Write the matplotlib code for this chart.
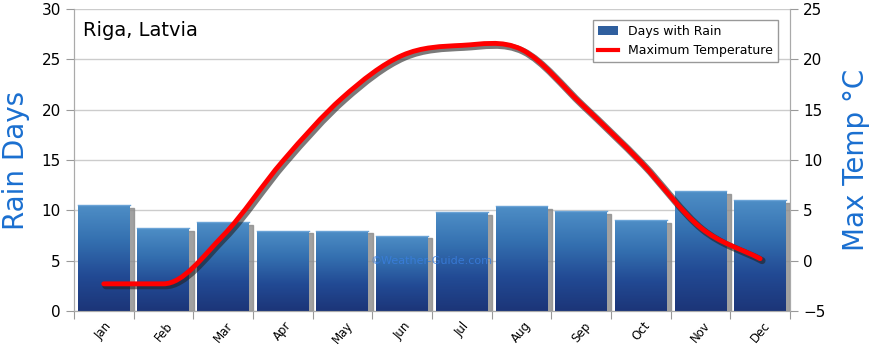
import numpy as np
import matplotlib.pyplot as plt
import matplotlib.transforms as mtransforms
from matplotlib.path import Path
from matplotlib.patches import PathPatch, Rectangle
from matplotlib.lines import Line2D
from matplotlib.colors import LinearSegmentedColormap

months = ["Jan", "Feb", "Mar", "Apr", "May", "Jun", "Jul", "Aug", "Sep", "Oct", "Nov", "Dec"]
rain_days = [10.5, 8.2, 8.8, 8.0, 8.0, 7.5, 9.8, 10.4, 9.9, 9.0, 11.9, 11.0]
max_temp = [-2.3, -2.3, 2.5, 9.9, 16.2, 20.4, 21.4, 21.0, 15.6, 9.8, 3.3, 0.2]

plt.rcParams['font.family'] = ['DejaVu Sans']

fig = plt.figure(figsize=(8.7, 3.52), dpi=100)
ax = fig.add_axes([0.085, 0.1165, 0.823, 0.8575])
ax2 = ax.twinx()

x = np.arange(len(months))
w = 0.87

# gradient used to fill the bars
grad = np.linspace(0, 1, 256).reshape(-1, 1)
cmap = LinearSegmentedColormap.from_list("rain", ["#1c3578", "#224a94", "#3470b0", "#4e8ec6"])

for i, v in enumerate(rain_days):
    # shadow
    ax.add_patch(Rectangle((x[i] - w / 2 + 0.07, 0), w, v - 0.25, color="#8a8a8a", alpha=0.8, zorder=2))
    rect = Rectangle((x[i] - w / 2, 0), w, v, facecolor="none", edgecolor="none", zorder=3)
    ax.add_patch(rect)
    im = ax.imshow(grad, extent=(x[i] - w / 2, x[i] + w / 2, 0, v), origin="lower",
                   cmap=cmap, aspect="auto", zorder=3, vmin=0, vmax=1)
    im.set_clip_path(rect)
    ax.plot([x[i] - w / 2, x[i] + w / 2], [v, v], color="#6aa3d6", lw=1, zorder=4)

ax.set_xlim(-0.5, 11.5)
ax.set_ylim(0, 30)
ax.set_yticks(range(0, 31, 5))
ax.set_xticks(np.arange(-0.5, 12, 1))
ax.set_xticklabels([])
ax.set_xticks(x, minor=True)
ax.set_xticklabels(months, minor=True, rotation=50, fontsize=8.5)
ax.tick_params(axis="x", which="minor", length=0, pad=6)
ax.tick_params(axis="x", which="major", length=6, color="#999999")
ax.tick_params(axis="y", length=6, color="#999999", labelsize=11)
ax.grid(axis="y", color="#cccccc", lw=1, zorder=0)
ax.set_axisbelow(True)
ax.spines["top"].set_visible(False)
ax2.spines["top"].set_visible(False)
for s in ["left", "right", "bottom"]:
    ax.spines[s].set_color("#aaaaaa")
    ax2.spines[s].set_color("#aaaaaa")

ax.set_ylabel("Rain Days", color="#1a6fd0", fontsize=20, labelpad=8)

# smooth temperature curve: catmull-rom tangents (flat next to a flat segment)
pts = np.column_stack([x, max_temp]).astype(float)
d = np.diff(pts[:, 1])
m = np.zeros(len(pts))
m[0], m[-1] = d[0], d[-1]
for i in range(1, len(pts) - 1):
    if d[i - 1] != 0 and d[i] != 0:
        m[i] = (d[i - 1] + d[i]) / 2
verts = [tuple(pts[0])]
codes = [Path.MOVETO]
for i in range(len(pts) - 1):
    p1, p2 = pts[i], pts[i + 1]
    verts += [(p1[0] + 1 / 3, p1[1] + m[i] / 3), (p2[0] - 1 / 3, p2[1] - m[i + 1] / 3), tuple(p2)]
    codes += [Path.CURVE4] * 3
path = Path(verts, codes)
shadow = ax2.transData + mtransforms.ScaledTranslation(2 / 100, -2 / 100, fig.dpi_scale_trans)
ax2.add_patch(PathPatch(path, fill=False, edgecolor="#222222", lw=5, alpha=0.6,
                        transform=shadow, zorder=5, capstyle="round"))
ax2.add_patch(PathPatch(path, fill=False, edgecolor="#ff0000", lw=3.5, zorder=6, capstyle="round"))

ax2.set_ylim(-5, 25)
ax2.set_yticks(range(-5, 26, 5))
ax2.tick_params(axis="y", length=6, color="#999999", labelsize=11)
ax2.set_ylabel("Max Temp °C", color="#1a6fd0", fontsize=20, labelpad=12)

ax.text(0.012, 0.93, "Riga, Latvia", transform=ax.transAxes, fontsize=14, va="center")
ax.text(5.5, 5.0, "©Weather-Guide.com", fontsize=8, color="#3a7fe0", alpha=0.8,
        ha="center", va="center", zorder=7)

# legend
handles = [Rectangle((0, 0), 1, 1, facecolor="#2f5f9e", edgecolor="none"),
           Line2D([0], [0], color="#ff0000", lw=3)]
leg = ax2.legend(handles, ["Days with Rain", "Maximum Temperature"], loc="upper right",
                 bbox_to_anchor=(0.992, 0.985), fontsize=9, fancybox=False, framealpha=1,
                 edgecolor="#999999", handlelength=1.6)
leg.set_zorder(10)

fig.savefig("out.png", dpi=100)
